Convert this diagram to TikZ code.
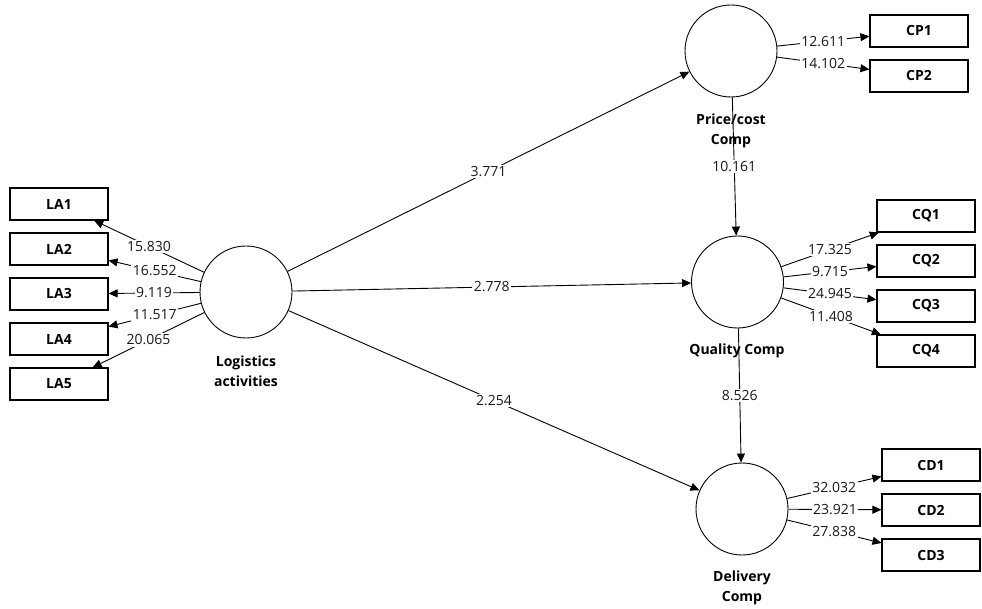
\documentclass[tikz,border=0pt]{standalone}
\usepackage{fontspec}
\setmainfont{Open Sans}
\usetikzlibrary{arrows.meta}
\begin{document}
\begin{tikzpicture}[x=1pt,y=-1pt,
 lat/.style={draw, circle, minimum size=92pt, inner sep=0pt, line width=0.9pt},
 ind/.style={draw, rectangle, minimum width=98pt, minimum height=32pt, inner sep=0pt, line width=1.1pt, font=\fontsize{14}{16}\selectfont\bfseries},
 lbl/.style={font=\fontsize{14}{19.5}\selectfont\bfseries, align=center, inner sep=0pt},
 num/.style={fill=white, inner sep=1.5pt, font=\fontsize{14}{16}\selectfont, text=black!90},
 arr/.style={-{Triangle[length=9pt,width=8pt]}, line width=0.9pt},
]
\useasboundingbox (0,0) rectangle (982,609);
% latent variables
\node[lat] (LAct) at (246,292) {};
\node[lat] (PC) at (731,51) {};
\node[lat] (QC) at (737.5,282) {};
\node[lat] (DC) at (742,509) {};
% indicators
\node[ind] (LA1) at (59,204) {LA1};
\node[ind] (LA2) at (59,249) {LA2};
\node[ind] (LA3) at (59,294) {LA3};
\node[ind] (LA4) at (59,339) {LA4};
\node[ind] (LA5) at (59,384) {LA5};
\node[ind] (CP1) at (919,31) {CP1};
\node[ind] (CP2) at (919,76) {CP2};
\node[ind] (CQ1) at (926,216) {CQ1};
\node[ind] (CQ2) at (926,261) {CQ2};
\node[ind] (CQ3) at (926,306) {CQ3};
\node[ind] (CQ4) at (926,351) {CQ4};
\node[ind] (CD1) at (931,465) {CD1};
\node[ind] (CD2) at (931,510) {CD2};
\node[ind] (CD3) at (931,555) {CD3};
% structural paths
\draw[arr] (LAct) -- node[num]{3.771} (PC);
\draw[arr] (LAct) -- node[num]{2.778} (QC);
\draw[arr] (LAct) -- node[num]{2.254} (DC);
\draw[arr] (PC) -- node[num]{10.161} (QC);
\draw[arr] (QC) -- node[num]{8.526} (DC);
% latent labels (drawn over lines)
\node[lbl] (LActL) at (246,371) {Logistics\\activities};
\node[lbl] (PCL) at (731,131) {Price/cost\\Comp};
\node[lbl] (QCL) at (737,351) {Quality Comp};
\node[lbl] (DCL) at (742,588) {Delivery\\Comp};
% outer loadings
\draw[arr] (LAct) -- node[num]{15.830} (LA1);
\draw[arr] (LAct) -- node[num]{16.552} (LA2);
\draw[arr] (LAct) -- node[num]{9.119} (LA3);
\draw[arr] (LAct) -- node[num]{11.517} (LA4);
\draw[arr] (LAct) -- node[num]{20.065} (LA5);
\draw[arr] (PC) -- node[num]{12.611} (CP1);
\draw[arr] (PC) -- node[num]{14.102} (CP2);
\draw[arr] (QC) -- node[num]{17.325} (CQ1);
\draw[arr] (QC) -- node[num]{9.715} (CQ2);
\draw[arr] (QC) -- node[num]{24.945} (CQ3);
\draw[arr] (QC) -- node[num]{11.408} (CQ4);
\draw[arr] (DC) -- node[num]{32.032} (CD1);
\draw[arr] (DC) -- node[num]{23.921} (CD2);
\draw[arr] (DC) -- node[num]{27.838} (CD3);
\end{tikzpicture}
\end{document}
